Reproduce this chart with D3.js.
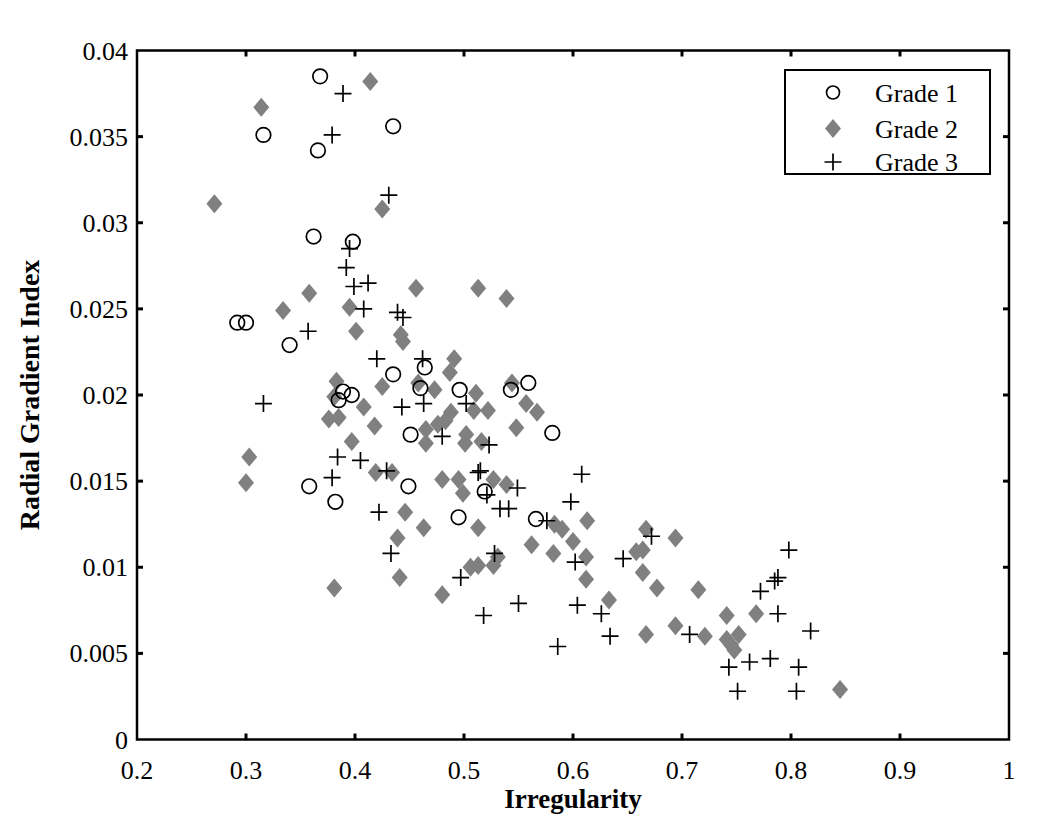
<!DOCTYPE html>
<html><head><meta charset="utf-8">
<script src="https://cdn.jsdelivr.net/npm/d3@7"></script>
<style>html,body{margin:0;padding:0;background:#fff;}</style>
</head><body>
<svg id="chart" width="1050" height="828"></svg>
<script>
const xTicks = [0.2,0.3,0.4,0.5,0.6,0.7,0.8,0.9,1];
const yTicks = [0,0.005,0.01,0.015,0.02,0.025,0.03,0.035,0.04];
const seriesNames = ["Grade 1","Grade 2","Grade 3"];

const grade1 = [[0.368,0.0385],[0.435,0.0356],[0.316,0.0351],[0.366,0.0342],[0.362,0.0292],[0.398,0.0289],[0.292,0.0242],[0.300,0.0242],[0.340,0.0229],[0.435,0.0212],[0.464,0.0216],[0.460,0.0204],[0.389,0.0202],[0.397,0.0200],[0.385,0.0197],[0.451,0.0177],[0.496,0.0203],[0.543,0.0203],[0.559,0.0207],[0.581,0.0178],[0.358,0.0147],[0.449,0.0147],[0.382,0.0138],[0.519,0.0144],[0.495,0.0129],[0.566,0.0128]];

const grade2 = [[0.414,0.0382],[0.314,0.0367],[0.271,0.0311],[0.425,0.0308],[0.358,0.0259],[0.456,0.0262],[0.513,0.0262],[0.539,0.0256],[0.334,0.0249],[0.395,0.0251],[0.401,0.0237],[0.442,0.0235],[0.444,0.0231],[0.425,0.0205],[0.458,0.0207],[0.383,0.0208],[0.381,0.0199],[0.408,0.0193],[0.376,0.0186],[0.385,0.0187],[0.418,0.0182],[0.465,0.0180],[0.465,0.0172],[0.397,0.0173],[0.303,0.0164],[0.419,0.0155],[0.434,0.0155],[0.300,0.0149],[0.446,0.0132],[0.463,0.0123],[0.439,0.0117],[0.441,0.0094],[0.381,0.0088],[0.491,0.0221],[0.487,0.0213],[0.473,0.0203],[0.511,0.0201],[0.544,0.0207],[0.509,0.0191],[0.522,0.0191],[0.557,0.0195],[0.567,0.0190],[0.488,0.0190],[0.483,0.0185],[0.476,0.0183],[0.502,0.0177],[0.501,0.0172],[0.516,0.0173],[0.548,0.0181],[0.480,0.0151],[0.495,0.0151],[0.527,0.0151],[0.539,0.0148],[0.499,0.0143],[0.513,0.0123],[0.583,0.0125],[0.590,0.0122],[0.613,0.0127],[0.600,0.0115],[0.667,0.0122],[0.694,0.0117],[0.562,0.0113],[0.582,0.0108],[0.612,0.0106],[0.531,0.0106],[0.527,0.0101],[0.513,0.0101],[0.506,0.0100],[0.658,0.0109],[0.664,0.0110],[0.664,0.0097],[0.612,0.0093],[0.677,0.0088],[0.715,0.0087],[0.480,0.0084],[0.633,0.0081],[0.694,0.0066],[0.667,0.0061],[0.741,0.0072],[0.768,0.0073],[0.721,0.0060],[0.741,0.0058],[0.752,0.0061],[0.748,0.0052],[0.745,0.0055],[0.845,0.0029]];

const grade3 = [[0.389,0.0375],[0.379,0.0351],[0.431,0.0316],[0.395,0.0285],[0.392,0.0274],[0.399,0.0263],[0.412,0.0265],[0.408,0.0250],[0.439,0.0248],[0.444,0.0245],[0.357,0.0237],[0.420,0.0221],[0.462,0.0221],[0.316,0.0195],[0.443,0.0193],[0.463,0.0195],[0.384,0.0164],[0.405,0.0162],[0.429,0.0156],[0.379,0.0152],[0.422,0.0132],[0.433,0.0108],[0.502,0.0195],[0.480,0.0176],[0.523,0.0171],[0.608,0.0154],[0.513,0.0155],[0.515,0.0156],[0.549,0.0146],[0.521,0.0142],[0.533,0.0134],[0.541,0.0134],[0.598,0.0138],[0.576,0.0127],[0.672,0.0118],[0.528,0.0108],[0.602,0.0103],[0.646,0.0105],[0.497,0.0094],[0.550,0.0079],[0.604,0.0078],[0.626,0.0073],[0.518,0.0072],[0.634,0.0060],[0.707,0.0061],[0.586,0.0054],[0.798,0.0110],[0.788,0.0094],[0.785,0.0092],[0.772,0.0086],[0.788,0.0073],[0.818,0.0063],[0.743,0.0042],[0.762,0.0045],[0.781,0.0047],[0.807,0.0042],[0.751,0.0028],[0.805,0.0028]];

const L = 137, R = 1009, T = 50.5, B = 739.5;
const svg = d3.select("#chart");
const x = d3.scaleLinear().domain([0.2,1]).range([L,R]);
const y = d3.scaleLinear().domain([0,0.04]).range([B,T]);
const font = "'Liberation Serif','Times New Roman',serif";

// ticks (inward, on all four sides)
const tk = svg.append("g").attr("stroke","#000").attr("stroke-width",3);
xTicks.slice(1,-1).forEach(v=>{
  tk.append("line").attr("x1",x(v)).attr("x2",x(v)).attr("y1",B).attr("y2",B-6);
  tk.append("line").attr("x1",x(v)).attr("x2",x(v)).attr("y1",T).attr("y2",T+6);
});
yTicks.slice(1,-1).forEach(v=>{
  tk.append("line").attr("x1",L).attr("x2",L+6).attr("y1",y(v)).attr("y2",y(v));
  tk.append("line").attr("x1",R).attr("x2",R-6).attr("y1",y(v)).attr("y2",y(v));
});

// tick labels
svg.append("g").selectAll("text").data(xTicks).join("text")
  .attr("x",d=>x(d)).attr("y",779).attr("text-anchor","middle")
  .attr("font-family",font).attr("font-size",26).text(d=>String(d));
svg.append("g").selectAll("text").data(yTicks).join("text")
  .attr("x",128).attr("y",d=>y(d)).attr("dy","0.35em").attr("text-anchor","end")
  .attr("font-family",font).attr("font-size",26).text(d=>String(d));

// axis titles
svg.append("text").attr("x",(L+R)/2).attr("y",808).attr("text-anchor","middle")
  .attr("font-family",font).attr("font-weight","bold").attr("font-size",27).text("Irregularity");
svg.append("text").attr("transform",`translate(39,${(T+B)/2}) rotate(-90)`).attr("text-anchor","middle")
  .attr("font-family",font).attr("font-weight","bold").attr("font-size",28).text("Radial Gradient Index");

// markers
const g = svg.append("g");
const diamond = "M0,-9.5L8,0L0,9.5L-8,0Z";
const plus = "M-8.5,0H8.5M0,-8.5V8.5";
g.selectAll("path.g2").data(grade2).join("path").attr("class","g2")
  .attr("transform",d=>`translate(${x(d[0])},${y(d[1])})`).attr("d",diamond).attr("fill","#808080");
g.selectAll("circle.g1").data(grade1).join("circle").attr("class","g1")
  .attr("cx",d=>x(d[0])).attr("cy",d=>y(d[1])).attr("r",7.3)
  .attr("fill","none").attr("stroke","#000").attr("stroke-width",1.7);
g.selectAll("path.g3").data(grade3).join("path").attr("class","g3")
  .attr("transform",d=>`translate(${x(d[0])},${y(d[1])})`).attr("d",plus)
  .attr("fill","none").attr("stroke","#000").attr("stroke-width",1.7);

// frame
svg.append("rect").attr("x",L).attr("y",T).attr("width",R-L).attr("height",B-T)
  .attr("fill","none").attr("stroke","#000").attr("stroke-width",2.5);

// legend
const lg = svg.append("g");
lg.append("rect").attr("x",785).attr("y",70).attr("width",205).attr("height",104)
  .attr("fill","#fff").attr("stroke","#000").attr("stroke-width",2);
const rows = [92.5,128.5,162];
seriesNames.forEach((n,i)=>{
  const cy = rows[i];
  if(i===0) lg.append("circle").attr("cx",833).attr("cy",cy).attr("r",6.5).attr("fill","none").attr("stroke","#000").attr("stroke-width",1.7);
  if(i===1) lg.append("path").attr("transform",`translate(833,${cy})`).attr("d",diamond).attr("fill","#808080");
  if(i===2) lg.append("path").attr("transform",`translate(833,${cy})`).attr("d",plus).attr("fill","none").attr("stroke","#000").attr("stroke-width",1.7);
  lg.append("text").attr("x",875).attr("y",cy).attr("dy","0.35em").attr("font-family",font).attr("font-size",26).text(n);
});
</script>
</body></html>
